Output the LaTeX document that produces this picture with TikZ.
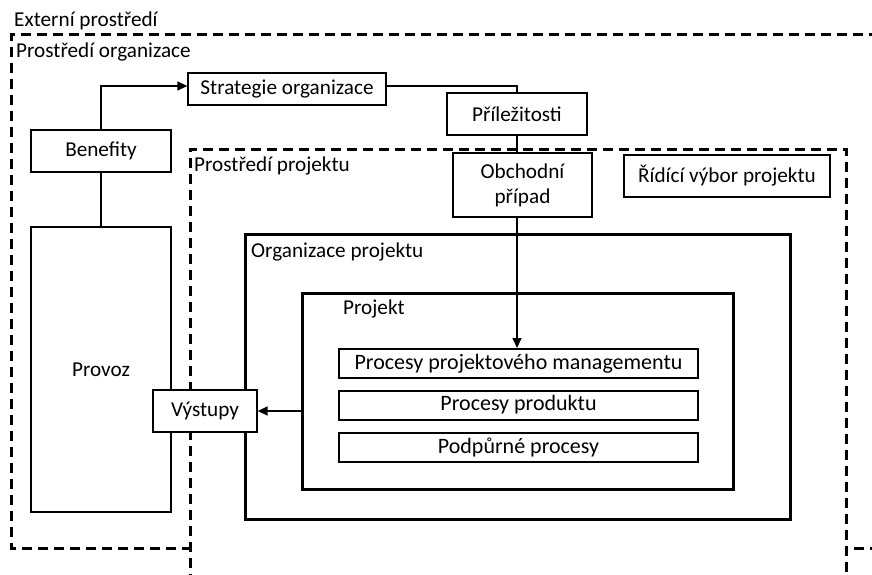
\documentclass[tikz,border=0pt]{standalone}
\usepackage{fontspec}
\setmainfont{Carlito}
\usetikzlibrary{arrows.meta,calc}
\begin{document}
\begin{tikzpicture}[x=1pt,y=-1pt,
  font=\fontsize{21.2}{25}\selectfont,
  box/.style={draw,line width=1.3pt,fill=white,inner sep=0pt,align=center},
  procbox/.style={draw,line width=2pt,fill=white,inner sep=0pt,
    minimum width=359pt,minimum height=29pt,font=\fontsize{22}{26}\selectfont},
  envline/.style={line width=3pt,dash pattern=on 10pt off 6pt},
  frame/.style={draw,line width=3pt,inner sep=0pt},
  title/.style={anchor=west,inner sep=0pt},
  link/.style={line width=1.4pt},
  arr/.style={link,-{Triangle[length=10pt,width=9pt]}}]

\useasboundingbox (0,0) rectangle (872,575);
\clip (0,0) rectangle (872,575);

% organisation environment (runs past the right edge)
\draw[envline] (895,35) -- (11,35) -- (11,548) -- (895,548);
% project environment (runs past the bottom edge)
\draw[envline,fill=white] (190,600) -- (190,149) -- (846,149) -- (846,600);

% environment titles
\node[title] (tExt) at (14,21) {Externí prostředí};
\node[title] (tOrg) at (16,52) {Prostředí organizace};
\node[title] (tProj) at (194,166) {Prostředí projektu};

% nested project frames
\node[frame,minimum width=545pt,minimum height=285pt] (org) at (517.5,376.5) {};
\node[title] (tOrgP) at (251,252) {Organizace projektu};
\node[frame,minimum width=431pt,minimum height=196pt] (projekt) at (517.5,391) {};
\node[title] (tPr) at (343,309) {Projekt};

% process boxes
\node[procbox] (p1) at (518.5,363.5) {Procesy projektového managementu};
\node[procbox] (p2) at (518.5,405) {Procesy produktu};
\node[procbox] (p3) at (518.5,447) {Podpůrné procesy};

% boxes
\node[box,minimum width=198pt,minimum height=32pt] (strat) at (287,89) {Strategie organizace};
\node[box,minimum width=140pt,minimum height=42pt] (prilez) at (517,114) {Příležitosti};
\node[box,minimum width=139pt,minimum height=64pt] (obch) at (522.5,185) {Obchodní\\případ};
\node[box,minimum width=206pt,minimum height=42pt] (ridici) at (727,176) {Řídící výbor projektu};
\node[box,minimum width=140pt,minimum height=42pt] (benef) at (101,151) {Benefity};
\node[box,minimum width=140pt,minimum height=285pt] (provoz) at (101,369.5) {Provoz};
\node[box,minimum width=104pt,minimum height=42pt] (vystupy) at (205,411) {Výstupy};

% connectors
\draw[arr] (benef.north) |- ($(strat.west)+(0,-3)$);
\draw[link] ($(strat.east)+(0,-3)$) -| (prilez.north);
\draw[link] (prilez.south) -- (prilez.south |- obch.north);
\draw[arr] (prilez.south |- obch.south) -- (prilez.south |- p1.north);
\draw[link] (benef.south) -- (provoz.north);
\draw[arr] (projekt.west |- vystupy.east) -- (vystupy.east);
\end{tikzpicture}
\end{document}
